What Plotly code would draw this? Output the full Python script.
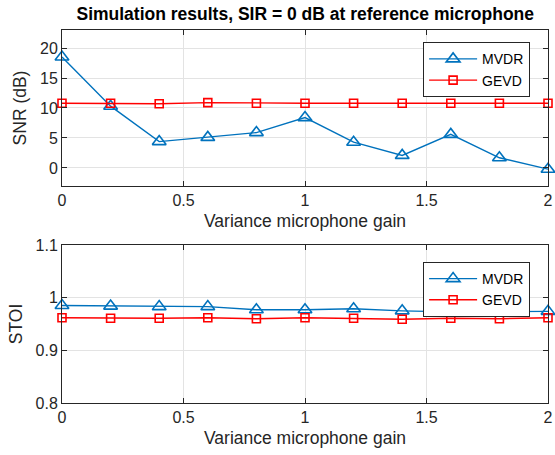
import plotly.graph_objects as go
from plotly.subplots import make_subplots

x_gain = [0, 0.2, 0.4, 0.6, 0.8, 1.0, 1.2, 1.4, 1.6, 1.8, 2.0]
snr_mvdr = [18.5, 10.3, 4.4, 5.1, 5.9, 8.4, 4.3, 2.1, 5.6, 1.7, -0.2]
snr_gevd = [10.8, 10.8, 10.7, 10.9, 10.8, 10.8, 10.8, 10.8, 10.8, 10.8, 10.8]
stoi_mvdr = [0.985, 0.984, 0.983, 0.983, 0.977, 0.977, 0.979, 0.975, 0.973, 0.973, 0.974]
stoi_gevd = [0.962, 0.961, 0.961, 0.962, 0.960, 0.962, 0.961, 0.959, 0.961, 0.960, 0.962]
x_ticks = [0, 0.5, 1, 1.5, 2]
x_ticktext = ["0", "0.5", "1", "1.5", "2"]
snr_ticks = [0, 5, 10, 15, 20]
stoi_ticks = [0.8, 0.9, 1.0, 1.1]
stoi_ticktext = ["0.8", "0.9", "1", "1.1"]

blue = "#0072BD"
red = "#FF0000"
axc = "#262626"

fig = make_subplots(rows=2, cols=1)

def add(row, y1, y2, leg):
    fig.add_trace(go.Scatter(x=x_gain, y=y1, mode="lines+markers", name="MVDR",
                             line=dict(color=blue, width=1.4), cliponaxis=False,
                             marker=dict(symbol="triangle-up-open", size=12, color=blue,
                                         line=dict(width=1.6, color=blue)),
                             legend=leg), row=row, col=1)
    fig.add_trace(go.Scatter(x=x_gain, y=y2, mode="lines+markers", name="GEVD",
                             line=dict(color=red, width=1.4), cliponaxis=False,
                             marker=dict(symbol="square-open", size=8, color=red,
                                         line=dict(width=1.6, color=red)),
                             legend=leg), row=row, col=1)

add(1, snr_mvdr, snr_gevd, "legend")
add(2, stoi_mvdr, stoi_gevd, "legend2")

axis_common = dict(showline=True, linecolor=axc, linewidth=1, mirror="ticks",
                   ticks="inside", ticklen=5, tickcolor=axc,
                   showgrid=True, gridcolor="#E3E3E3", gridwidth=1,
                   zeroline=False, tickfont=dict(size=16, color=axc),
                   automargin=False, ticklabeloverflow="allow")

fig.update_xaxes(**axis_common, range=[0, 2.0000001], tickvals=x_ticks, ticktext=x_ticktext,
                 title=dict(text="Variance microphone gain", font=dict(size=17.5, color=axc), standoff=6))
fig.update_yaxes(**axis_common)
fig.update_yaxes(range=[-3, 23], tickvals=snr_ticks,
                 title=dict(text="SNR (dB)", font=dict(size=17.5, color=axc), standoff=8), row=1, col=1)
fig.update_yaxes(range=[0.8, 1.1], tickvals=stoi_ticks, ticktext=stoi_ticktext,
                 title=dict(text="STOI", font=dict(size=17.5, color=axc), standoff=8), row=2, col=1)

legend_style = dict(xanchor="left", yanchor="top", bgcolor="white", bordercolor=axc,
                    borderwidth=1, font=dict(size=14, color="black"),
                    tracegroupgap=0, itemwidth=48)

fig.update_layout(
    xaxis=dict(domain=[0, 1], anchor="y"),
    yaxis=dict(domain=[0.5818, 1.0]),
    xaxis2=dict(domain=[0, 1], anchor="y2"),
    yaxis2=dict(domain=[0.0, 0.4236]),
    width=555, height=455,
    margin=dict(l=62, r=7, t=30, b=52),
    paper_bgcolor="white", plot_bgcolor="white",
    font=dict(family="Liberation Sans, Arial, sans-serif", color=axc),
    title=dict(text="<b>Simulation results, SIR = 0 dB at reference microphone</b>",
               x=0.55, xanchor="center", y=0.984, yanchor="top",
               font=dict(size=17.5, color="black")),
    legend=dict(x=0.743, y=0.967, **legend_style),
    legend2=dict(x=0.743, y=0.378, **legend_style),
)

fig.write_html("out.html", config={"displayModeBar": False},
               post_script="document.body.style.margin='0';document.body.style.overflow='hidden';")
